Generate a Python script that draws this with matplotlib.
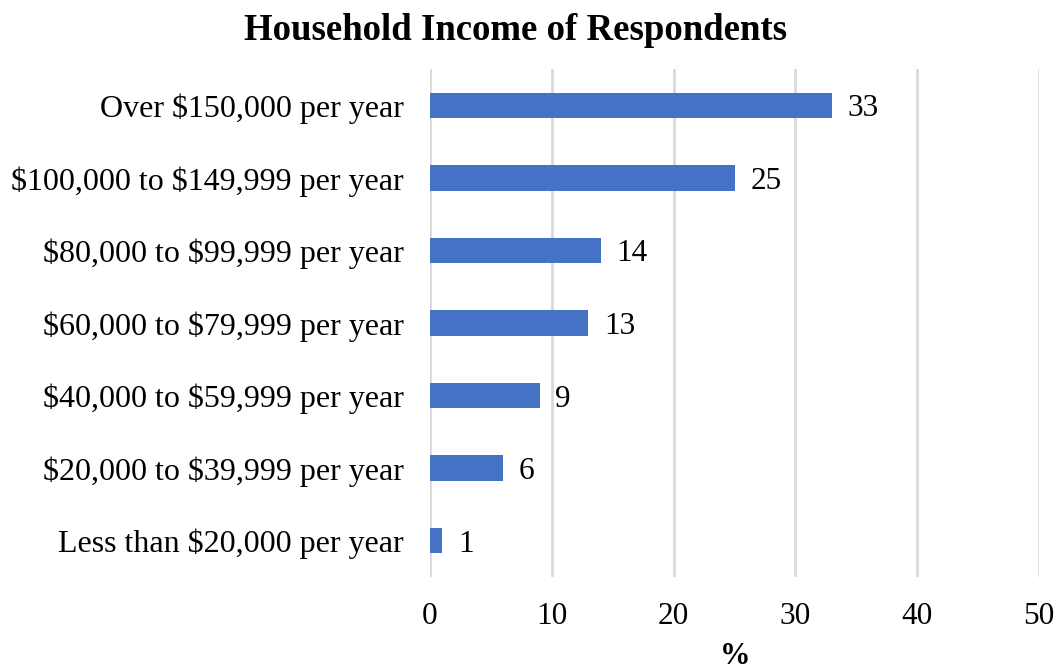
import matplotlib
matplotlib.use("Agg")
import matplotlib.pyplot as plt

categories = [
    "Less than $20,000 per year",
    "$20,000 to $39,999 per year",
    "$40,000 to $59,999 per year",
    "$60,000 to $79,999 per year",
    "$80,000 to $99,999 per year",
    "$100,000 to $149,999 per year",
    "Over $150,000 per year",
]
values = [1, 6, 9, 13, 14, 25, 33]
xticks = [0, 10, 20, 30, 40, 50]

plt.rcParams["font.family"] = ["Liberation Serif", "DejaVu Serif"]
plt.rcParams["text.parse_math"] = False

fig = plt.figure(figsize=(10.57, 6.69), dpi=100)
ax = fig.add_axes([430 / 1057, 1 - 577 / 669, (1039 - 430) / 1057, (577 - 69) / 669])

ypos = list(range(len(categories)))
ax.barh(ypos, values, height=0.35, color="#4472C4", zorder=3)

for y, v in zip(ypos, values):
    ax.text(v + 1.3, y, f"{v}", va="center_baseline", ha="left", fontsize=22.5, color="black")

ax.set_xlim(0, 50)
ax.set_ylim(-0.5, len(categories) - 0.5)
ax.set_xticks(xticks)
ax.set_xticklabels([str(t) for t in xticks], fontsize=22.5)
ax.set_yticks(ypos)
ax.set_yticklabels(categories, fontsize=23)
ax.tick_params(axis="both", length=0)
ax.tick_params(axis="x", pad=18)
ax.tick_params(axis="y", pad=19)

ax.grid(axis="x", color="#d9d9d9", linewidth=2, zorder=0)
for s in ax.spines.values():
    s.set_visible(False)

fig.text(516 / 1057, 1 - 31 / 669, "Household Income of Respondents",
         ha="center", va="center", fontsize=26.5, fontweight="bold")
fig.text(735 / 1057, 1 - 656 / 669, "%", ha="center", va="center",
         fontsize=22, fontweight="bold")

fig.savefig("out.png", dpi=100)
